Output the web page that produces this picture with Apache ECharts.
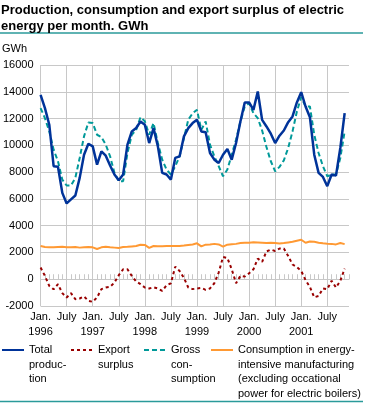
<!DOCTYPE html>
<html><head><meta charset="utf-8">
<script src="https://cdn.jsdelivr.net/npm/echarts@6/dist/echarts.min.js"></script>
<style>html,body{margin:0;padding:0;background:#fff}#c{width:365px;height:404px}</style>
</head><body><div id="c"></div>
<script>
const years = [1996, 1997, 1998, 1999, 2000, 2001];
const monthNames = ['Jan', 'Feb', 'Mar', 'Apr', 'May', 'Jun', 'Jul', 'Aug', 'Sep', 'Oct', 'Nov', 'Dec'];
const categories = [];
years.forEach(y => monthNames.forEach(m => categories.push(m + ' ' + y)));

const yTicks = { min: -2000, max: 16000, interval: 2000 };

const totalProduction = [
  13770, 12780, 11540, 8440, 8400, 6450, 5660, 5960, 6250, 7570, 9300, 10120,
  9920, 8560, 9550, 9230, 8490, 7820, 7390, 7820, 10050, 11040, 11290, 11780,
  11540, 10170, 11290, 9920, 7940, 7820, 7440, 9060, 9180, 10670, 11290, 11660,
  11910, 11040, 10970, 9430, 8930, 8680, 9300, 9730, 8930, 10170, 11780, 13200,
  13200, 12650, 14020, 11900, 11410, 10870, 10170, 10720, 11110, 11730, 12160, 13200,
  13970, 12900, 12100, 9300, 7940, 7640, 6950, 7820, 7740, 9800, 12400
];
const exportSurplus = [
  870, 250, -500, -750, -370, -1040, -1360, -1040, -1490, -1440, -1290, -1610,
  -1690, -1360, -740, -620, -570, -250, 300, 740, 740, 250, -170, -370,
  -620, -690, -600, -690, -870, -450, -300, 940, 620, 100, -620, -740,
  -690, -650, -790, -690, -300, 500, 1660, 1590, 740, -300, 250, 200,
  450, 740, 1540, 1300, 2080, 2210, 2110, 2290, 2290, 1740, 1100, 900,
  620, -70, -570, -1350, -1250, -690, -740, -120, -620, -120, 790
];
const grossConsumption = [
  12780, 12030, 11040, 9680, 8810, 7440, 7000, 7000, 7570, 9060, 10670, 11710,
  11660, 10790, 10620, 10050, 9180, 7950, 7320, 7320, 9430, 10790, 11160, 12100,
  11800, 10790, 11660, 10170, 8930, 8190, 7820, 8440, 9180, 10540, 11910, 12400,
  12650, 11160, 11780, 10050, 9180, 8440, 7690, 8190, 9300, 10420, 11780, 12900,
  13150, 12400, 12030, 11100, 9870, 8810, 8060, 8390, 8880, 9800, 11040, 12530,
  13590, 12900, 12900, 10790, 9430, 8440, 7690, 7820, 7820, 9060, 11040
];
const energyIntensive = [
  2480, 2400, 2380, 2380, 2400, 2420, 2380, 2380, 2400, 2360, 2380, 2400,
  2380, 2260, 2380, 2420, 2380, 2360, 2340, 2400, 2420, 2450, 2480, 2580,
  2560, 2340, 2480, 2460, 2470, 2480, 2480, 2480, 2490, 2520, 2560, 2600,
  2680, 2450, 2580, 2600, 2640, 2600, 2440, 2580, 2620, 2640, 2700, 2720,
  2730, 2760, 2740, 2720, 2700, 2720, 2700, 2660, 2700, 2750, 2800, 2880,
  2950, 2720, 2820, 2800, 2730, 2680, 2650, 2640, 2600, 2700, 2620
];

const seriesNames = ['Total production', 'Export surplus', 'Gross consumption',
  'Consumption in energy-intensive manufacturing (excluding occational power for electric boilers)'];
const legendLabels = ['Total\nproduc-\ntion', 'Export\nsurplus', 'Gross\ncon-\nsumption',
  'Consumption in energy-\nintensive manufacturing\n(excluding occational\npower for electric boilers)'];

const FONT = '"Liberation Sans", Arial, sans-serif';
const GRID = '#c8c8c8';
const LH = 14.5;
const ICON_Y = 350;

const chart = echarts.init(document.getElementById('c'), null, { renderer: 'canvas' });

const legendLefts = [1, 70, 143, 210];
const legends = seriesNames.map((name, i) => {
  const lines = legendLabels[i].split('\n');
  const n = lines.length;
  // pad with blank lines above so that the first real line sits level with the icon
  const padded = new Array(n - 1).fill(' ').concat(lines).join('\n');
  const total = 2 * n - 1;
  return {
    data: [name],
    left: legendLefts[i],
    top: ICON_Y - total * LH / 2,
    padding: 0,
    itemWidth: 22,
    itemHeight: 14,
    selectedMode: false,
    itemStyle: { opacity: 0 },
    formatter: () => padded,
    textStyle: { fontFamily: FONT, fontSize: 11, color: '#000', lineHeight: LH }
  };
});

const sixMonthly = (idx) => idx % 6 === 0;

chart.setOption({
  animation: false,
  backgroundColor: '#fff',
  title: {
    text: 'Production, consumption and export surplus of electric\nenergy per month. GWh',
    left: 1, top: 2, padding: 0,
    textStyle: { fontFamily: FONT, fontSize: 13, fontWeight: 'bold', color: '#000', lineHeight: 16.5 }
  },
  legend: legends,
  grid: { left: 40, right: 16, top: 65, bottom: 98 },
  xAxis: [{
    type: 'category', data: categories, boundaryGap: false, position: 'bottom',
    axisLine: { show: false, onZero: false },
    axisTick: { show: false },
    axisLabel: {
      interval: (idx) => idx % 6 === 0,
      formatter: (v, idx) => idx % 12 === 0 ? 'Jan.\n' + years[idx / 12] : (idx % 12 === 6 ? 'July' : ''),
      fontFamily: FONT, fontSize: 11, color: '#000', lineHeight: 15, margin: 3
    },
    splitLine: { show: true, interval: sixMonthly, lineStyle: { color: GRID, width: 1 } }
  }, {
    type: 'category', data: categories, boundaryGap: false, position: 'bottom',
    axisLine: { show: true, onZero: true, lineStyle: { color: GRID } },
    axisTick: { show: true, inside: true, length: 5, interval: 0, lineStyle: { color: GRID } },
    axisLabel: { show: false },
    splitLine: { show: false }
  }],
  yAxis: {
    type: 'value', min: yTicks.min, max: yTicks.max, interval: yTicks.interval,
    axisLine: { show: false }, axisTick: { show: false },
    axisLabel: { fontFamily: FONT, fontSize: 11, color: '#000', margin: 7, formatter: (v) => String(v) },
    splitLine: { lineStyle: { color: GRID, width: 1 } }
  },
  graphic: [
    { type: 'line', shape: { x1: 0, y1: 33, x2: 363, y2: 33 }, style: { stroke: '#2a9a9a', lineWidth: 1.5 } },
    { type: 'line', shape: { x1: 0, y1: 401.5, x2: 363, y2: 401.5 }, style: { stroke: '#2a9a9a', lineWidth: 1.5 } },
    { type: 'text', left: 2, top: 43, style: { text: 'GWh', font: '11px ' + FONT, fill: '#000' } }
  ],
  series: [
    { name: seriesNames[3], type: 'line', data: energyIntensive, symbol: 'none', z: 2,
      lineStyle: { color: '#ff9933', width: 2 }, itemStyle: { color: '#ff9933' } },
    { name: seriesNames[1], type: 'line', data: exportSurplus, symbol: 'none', z: 3,
      lineStyle: { color: '#990000', width: 2, type: [3, 3] }, itemStyle: { color: '#990000' } },
    { name: seriesNames[2], type: 'line', data: grossConsumption, symbol: 'none', z: 4,
      lineStyle: { color: '#009999', width: 2, type: [5, 3] }, itemStyle: { color: '#009999' } },
    { name: seriesNames[0], type: 'line', data: totalProduction, symbol: 'none', z: 5,
      lineStyle: { color: '#003399', width: 2.5 }, itemStyle: { color: '#003399' } }
  ]
});
</script>
</body></html>
